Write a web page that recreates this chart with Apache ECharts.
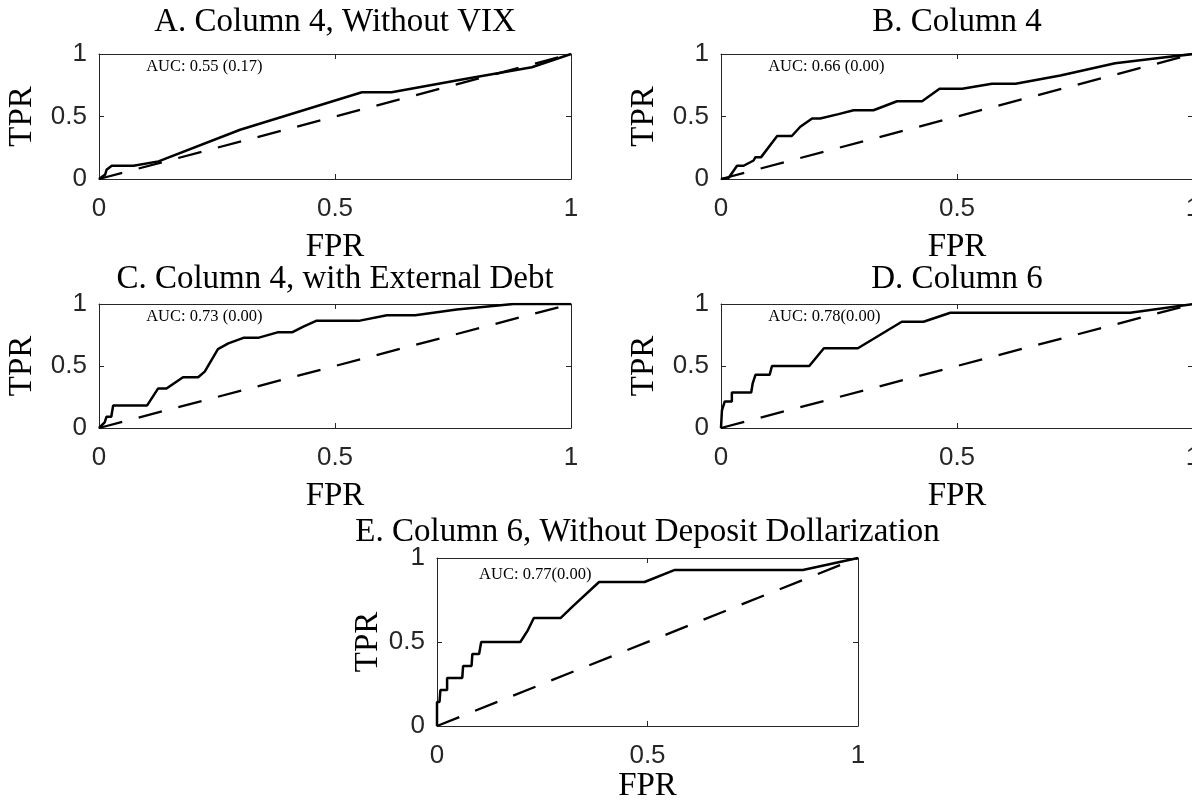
<!DOCTYPE html>
<html>
<head>
<meta charset="utf-8">
<script src="https://cdn.jsdelivr.net/npm/echarts@6/dist/echarts.min.js"></script>
<style>
html,body{margin:0;padding:0;background:#fff;}
#chart{width:1192px;height:802px;}
</style>
</head>
<body>
<div id="chart"></div>
<script>
// ---------- data ----------
const panelTitles = [
  'A. Column 4, Without VIX',
  'B. Column 4',
  'C. Column 4, with External Debt',
  'D. Column 6',
  'E. Column 6, Without Deposit Dollarization'
];
const aucLabels = ['AUC: 0.55 (0.17)', 'AUC: 0.66 (0.00)', 'AUC: 0.73 (0.00)', 'AUC: 0.78(0.00)', 'AUC: 0.77(0.00)'];
const xAxisName = 'FPR';
const yAxisName = 'TPR';
const tickValues = [0, 0.5, 1];

const fprA = [0, 0.013, 0.016, 0.027, 0.073, 0.126, 0.299, 0.557, 0.620, 0.772, 0.917, 1];
const tprA = [0, 0.035, 0.074, 0.106, 0.106, 0.141, 0.394, 0.694, 0.694, 0.798, 0.894, 1];

const fprB = [0, 0.016, 0.034, 0.048, 0.069, 0.073, 0.085, 0.119, 0.150, 0.168, 0.193, 0.210, 0.249, 0.281, 0.323, 0.373, 0.426, 0.463, 0.511, 0.574, 0.624, 0.719, 0.835, 0.910, 1];
const tprB = [0, 0.008, 0.106, 0.106, 0.148, 0.175, 0.175, 0.344, 0.344, 0.418, 0.484, 0.484, 0.519, 0.550, 0.550, 0.622, 0.622, 0.722, 0.722, 0.762, 0.762, 0.828, 0.926, 0.960, 1];

const fprC = [0, 0.012, 0.016, 0.026, 0.030, 0.102, 0.125, 0.143, 0.178, 0.210, 0.224, 0.252, 0.274, 0.306, 0.337, 0.380, 0.410, 0.433, 0.460, 0.550, 0.610, 0.670, 0.758, 0.878, 1];
const tprC = [0, 0.045, 0.091, 0.091, 0.182, 0.182, 0.318, 0.318, 0.409, 0.409, 0.455, 0.636, 0.682, 0.727, 0.727, 0.773, 0.773, 0.818, 0.864, 0.864, 0.909, 0.909, 0.955, 1, 1];

const fprD = [0, 0.002, 0.006, 0.008, 0.023, 0.023, 0.064, 0.067, 0.073, 0.103, 0.108, 0.187, 0.218, 0.290, 0.383, 0.429, 0.486, 0.867, 1];
const tprD = [0, 0.143, 0.143, 0.214, 0.214, 0.286, 0.286, 0.357, 0.429, 0.429, 0.5, 0.5, 0.643, 0.643, 0.857, 0.857, 0.929, 0.929, 1];

const fprE = [0, 0, 0.006, 0.008, 0.024, 0.024, 0.060, 0.062, 0.082, 0.084, 0.100, 0.105, 0.198, 0.216, 0.230, 0.294, 0.323, 0.385, 0.493, 0.565, 0.869, 1];
const tprE = [0, 0.143, 0.143, 0.214, 0.214, 0.286, 0.286, 0.357, 0.357, 0.429, 0.429, 0.5, 0.5, 0.571, 0.643, 0.643, 0.714, 0.857, 0.857, 0.929, 0.929, 1];

const chanceFpr = [0, 1];
const chanceTpr = [0, 1];

const rocFpr = [fprA, fprB, fprC, fprD, fprE];
const rocTpr = [tprA, tprB, tprC, tprD, tprE];

// ---------- layout ----------
const gridBoxes = [
  {left: 99,  top: 54,  width: 472, height: 125},
  {left: 721, top: 54,  width: 472, height: 125},
  {left: 99,  top: 304, width: 472, height: 124},
  {left: 721, top: 304, width: 472, height: 124},
  {left: 437, top: 558, width: 421, height: 168}
];
const titleY = [22, 22, 279, 279, 532];
const xNameGap = [52, 52, 52, 52, 42];
const yNameGap = [60, 60, 60, 60, 48];

const AX = '#262626';
const SERIF = '"Liberation Serif", "DejaVu Serif", serif';
const SANS = '"Liberation Sans", Arial, Helvetica, sans-serif';

const zip = (xs, ys) => xs.map((x, i) => [x, ys[i]]);

const grid = [], xAxis = [], yAxis = [], series = [], graphic = [];

gridBoxes.forEach((g, i) => {
  grid.push(Object.assign({containLabel: false, outerBoundsMode: 'none', show: false}, g));
  const common = {
    gridIndex: i, type: 'value', min: tickValues[0], max: tickValues[tickValues.length - 1], interval: 0.5,
    splitLine: {show: false},
    axisLine: {show: true, onZero: false, lineStyle: {color: AX, width: 1}},
    axisTick: {show: true, inside: true, length: 5, lineStyle: {color: AX, width: 1}}
  };
  xAxis.push(Object.assign({}, common, {
    position: 'bottom',
    axisLabel: {show: true, fontSize: 26, fontFamily: SANS, color: AX, margin: 17,
      formatter: v => String(v)},
    name: xAxisName, nameLocation: 'middle', nameGap: xNameGap[i],
    nameTextStyle: {fontSize: 33, fontFamily: SERIF, color: '#000'}
  }));
  xAxis.push(Object.assign({}, common, {position: 'top', axisLabel: {show: false}}));
  yAxis.push(Object.assign({}, common, {
    position: 'left',
    axisLabel: {show: true, fontSize: 26, fontFamily: SANS, color: AX, margin: 12,
      formatter: v => String(v)},
    name: yAxisName, nameLocation: 'middle', nameGap: yNameGap[i],
    nameTextStyle: {fontSize: 33, fontFamily: SERIF, color: '#000'}
  }));
  yAxis.push(Object.assign({}, common, {position: 'right', axisLabel: {show: false}}));

  series.push({
    type: 'line', xAxisIndex: 2 * i, yAxisIndex: 2 * i,
    data: zip(chanceFpr, chanceTpr), showSymbol: false, symbol: 'none',
    lineStyle: {color: '#000', width: 2.3, type: [24, 17]}, silent: true, z: 2
  });
  series.push({
    type: 'line', xAxisIndex: 2 * i, yAxisIndex: 2 * i,
    data: zip(rocFpr[i], rocTpr[i]), showSymbol: false, symbol: 'none',
    lineStyle: {color: '#000', width: 2.5}, silent: true, z: 3
  });

  graphic.push({
    type: 'text', x: g.left + g.width / 2, y: titleY[i],
    style: {text: panelTitles[i], fontSize: 33, fontFamily: SERIF, fill: '#000',
      align: 'center', verticalAlign: 'middle'}
  });
  graphic.push({
    type: 'text', x: g.left + g.width * 0.1, y: g.top + g.height * 0.1,
    style: {text: aucLabels[i], fontSize: 16.5, fontFamily: SERIF, fill: '#000',
      align: 'left', verticalAlign: 'middle'}
  });
});

const chart = echarts.init(document.getElementById('chart'), null, {renderer: 'canvas'});
chart.setOption({
  animation: false,
  backgroundColor: '#fff',
  grid, xAxis, yAxis, series, graphic
});
</script>
</body>
</html>
